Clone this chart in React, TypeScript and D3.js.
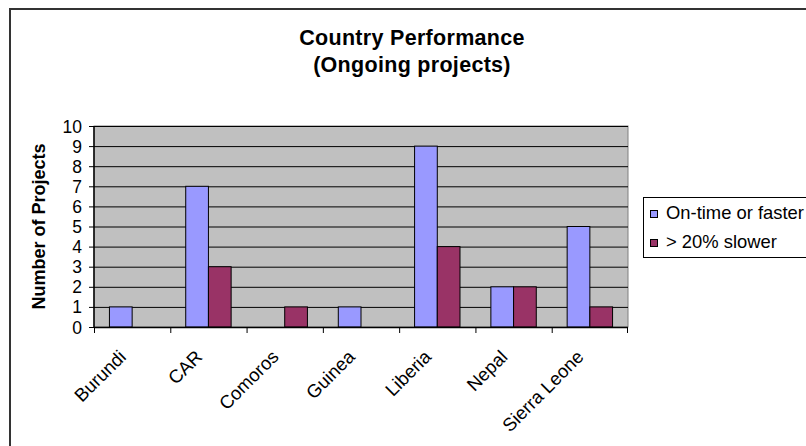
import React from "react";
import * as d3 from "d3";

const categories = ["Burundi", "CAR", "Comoros", "Guinea", "Liberia", "Nepal", "Sierra Leone"];
const onTime = [1, 7, 0, 1, 9, 2, 5];
const slower = [0, 3, 1, 0, 4, 2, 1];
const seriesNames = ["On-time or faster", "> 20% slower"];
const seriesColors = ["#9999FF", "#993366"];
const yTicks = [0, 1, 2, 3, 4, 5, 6, 7, 8, 9, 10];

const W = 806;
const H = 446;
const plot = { left: 94, top: 126, right: 628, bottom: 327 };
const FONT = "Arial, 'Liberation Sans', sans-serif";

export default function App() {
  const x0 = d3.scaleBand<string>().domain(categories).range([plot.left, plot.right]).padding(0);
  const gapRatio = 1.36;
  const barW = x0.bandwidth() / (2 + gapRatio);
  const y = d3.scaleLinear().domain([0, 10]).range([plot.bottom, plot.top]);
  const series = [onTime, slower];

  return (
    <svg
      width={W}
      height={H}
      style={{ position: "absolute", left: 0, top: 0, background: "#fff" }}
      fontFamily={FONT}
    >
      {/* chart frame */}
      <rect x={10} y={9} width={820} height={460} fill="#fff" stroke="#333" strokeWidth={2} />

      {/* title */}
      <text x={412} y={45} textAnchor="middle" fontSize={21.5} fontWeight="bold" letterSpacing={0.3}>
        Country Performance
      </text>
      <text x={412} y={72} textAnchor="middle" fontSize={21.5} fontWeight="bold" letterSpacing={0.3}>
        (Ongoing projects)
      </text>

      {/* plot area */}
      <rect
        x={plot.left}
        y={plot.top}
        width={plot.right - plot.left}
        height={plot.bottom - plot.top}
        fill="#C0C0C0"
        stroke="#808080"
        strokeWidth={1}
      />
      {yTicks.filter((t) => t > 0).map((t) => (
        <line key={t} x1={plot.left} x2={plot.right} y1={y(t) + 0.5} y2={y(t) + 0.5} stroke="#000" strokeWidth={1} />
      ))}

      {/* bars */}
      {categories.map((c, i) =>
        series.map((vals, s) => {
          const v = vals[i];
          if (v <= 0) return null;
          const bx = (x0(c) as number) + (x0.bandwidth() - 2 * barW) / 2 + s * barW;
          return (
            <rect
              key={c + s}
              x={bx}
              y={y(v)}
              width={barW}
              height={y(0) - y(v)}
              fill={seriesColors[s]}
              stroke="#000"
              strokeWidth={1}
            />
          );
        })
      )}

      {/* y axis */}
      <line x1={plot.left} x2={plot.left} y1={plot.top} y2={plot.bottom} stroke="#000" strokeWidth={1.5} />
      {yTicks.map((t) => (
        <g key={t}>
          <line x1={plot.left - 5} x2={plot.left} y1={y(t) + 0.5} y2={y(t) + 0.5} stroke="#000" />
          <text x={82} y={y(t) + 6.5} textAnchor="end" fontSize={17.5}>
            {t}
          </text>
        </g>
      ))}
      <text
        transform={`translate(45, ${(plot.top + plot.bottom) / 2}) rotate(-90)`}
        textAnchor="middle"
        fontSize={18}
        fontWeight="bold"
      >
        Number of Projects
      </text>

      {/* x axis */}
      <line x1={plot.left} x2={plot.right} y1={plot.bottom + 0.5} y2={plot.bottom + 0.5} stroke="#000" strokeWidth={1.5} />
      {categories.map((c) => (
        <line
          key={c}
          x1={(x0(c) as number) + 0.5}
          x2={(x0(c) as number) + 0.5}
          y1={plot.bottom}
          y2={plot.bottom + 6}
          stroke="#000"
        />
      ))}
      <line x1={plot.right - 0.5} x2={plot.right - 0.5} y1={plot.bottom} y2={plot.bottom + 6} stroke="#000" />
      {categories.map((c) => {
        const cx = (x0(c) as number) + x0.bandwidth() / 2;
        return (
          <text
            key={c}
            transform={`translate(${cx - 5}, ${plot.bottom + 31}) rotate(-45)`}
            textAnchor="end"
            fontSize={18.5}
          >
            {c}
          </text>
        );
      })}

      {/* legend */}
      <rect x={643.5} y={197.5} width={200} height={60} fill="#fff" stroke="#000" strokeWidth={1} />
      {seriesNames.map((n, s) => (
        <g key={n} transform={`translate(0, ${s * 29})`}>
          <rect x={650.5} y={210.5} width={7} height={7} fill={seriesColors[s]} stroke="#000" strokeWidth={1} />
          <text x={666} y={218.5} fontSize={18.4}>
            {n}
          </text>
        </g>
      ))}
    </svg>
  );
}
